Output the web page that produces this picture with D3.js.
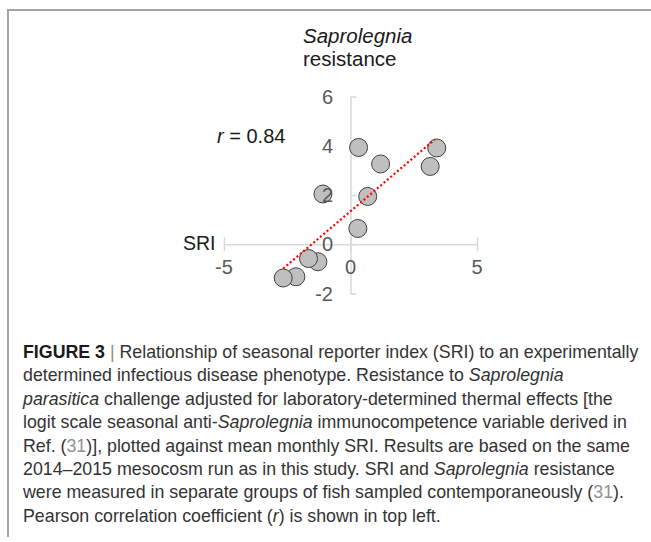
<!DOCTYPE html>
<html>
<head>
<meta charset="utf-8">
<script src="https://cdn.jsdelivr.net/npm/d3@7"></script>
<style>
  body { margin: 0; background: #fff; }
  svg { display: block; }
</style>
</head>
<body>
<div id="chart"></div>
<script>
var width = 651
var height = 542

// mean monthly SRI (x) vs Saprolegnia resistance (y)
var sriValues = [0.32, 1.19, 3.41, 3.15, -1.09, 0.68, 0.29, -1.29, -1.66, -2.16, -2.66]
var resistanceValues = [3.93, 3.26, 3.91, 3.16, 2.04, 1.94, 0.64, -0.71, -0.58, -1.32, -1.37]
var xTicks = [-5, 0, 5]
var yTicks = [-2, 0, 2, 4, 6]
var xDomain = [-5, 5]
var yDomain = [-2, 6]

var captionLines = [
  [{t: "FIGURE 3", b: 1}, {t: " | ", g: 1}, {t: "Relationship of seasonal reporter index (SRI) to an experimentally"}],
  [{t: "determined infectious disease phenotype. Resistance to "}, {t: "Saprolegnia", i: 1}],
  [{t: "parasitica", i: 1}, {t: " challenge adjusted for laboratory-determined thermal effects [the"}],
  [{t: "logit scale seasonal anti-"}, {t: "Saprolegnia", i: 1}, {t: " immunocompetence variable derived in"}],
  [{t: "Ref. ("}, {t: "31", c: 1}, {t: ")], plotted against mean monthly SRI. Results are based on the same"}],
  [{t: "2014\u20132015 mesocosm run as in this study. SRI and "}, {t: "Saprolegnia", i: 1}, {t: " resistance"}],
  [{t: "were measured in separate groups of fish sampled contemporaneously ("}, {t: "31", c: 1}, {t: ")."}],
  [{t: "Pearson correlation coefficient ("}, {t: "r", i: 1}, {t: ") is shown in top left."}]
]

var svg = d3.select('#chart')
  .append('svg')
  .attr('width', width)
  .attr('height', height)

// frame lines (top and left)
svg.append('line').attr('x1', 7).attr('x2', width).attr('y1', 10).attr('y2', 10)
  .attr('stroke', '#a6a6a6').attr('stroke-width', 2)
svg.append('line').attr('x1', 8).attr('x2', 8).attr('y1', 9).attr('y2', 537)
  .attr('stroke', '#a6a6a6').attr('stroke-width', 2)

var xScale = d3.scaleLinear().domain(xDomain).range([224, 477])
var yScale = d3.scaleLinear().domain(yDomain).range([293.5, 96.5])

var axisColor = '#d9d9d9'
var labelColor = '#595959'
var chartFont = '"Liberation Sans", Arial, sans-serif'

// x axis (crosses at y = 0)
var xAxis = d3.axisBottom(xScale).tickValues(xTicks).tickSizeInner(7).tickSizeOuter(0).tickFormat('')
var gx = svg.append('g')
  .attr('transform', 'translate(0,' + yScale(0) + ')')
  .call(xAxis)
gx.select('.domain').attr('stroke', axisColor).attr('stroke-width', 1.5)
gx.selectAll('.tick line').attr('stroke', axisColor).attr('stroke-width', 1.5).attr('y1', -7)

// y axis (crosses at x = 0)
var yAxis = d3.axisLeft(yScale).tickValues(yTicks).tickSizeInner(6).tickSizeOuter(0).tickFormat('')
var gy = svg.append('g')
  .attr('transform', 'translate(' + xScale(0) + ',0)')
  .call(yAxis)
gy.select('.domain').attr('stroke', axisColor).attr('stroke-width', 1.5)
gy.selectAll('.tick line').attr('stroke', axisColor).attr('stroke-width', 1.5).attr('x2', 6)

// points
var points = sriValues.map(function(x, i) { return {x: x, y: resistanceValues[i]} })
svg.append('g').selectAll('circle')
  .data(points)
  .enter()
  .append('circle')
  .attr('cx', function(d) { return xScale(d.x) })
  .attr('cy', function(d) { return yScale(d.y) })
  .attr('r', 9)
  .attr('fill', '#bfbfbf')
  .attr('stroke', '#404040')
  .attr('stroke-width', 1)

// least squares trend line
var mx = d3.mean(sriValues), my = d3.mean(resistanceValues)
var sxy = d3.sum(points, function(d) { return (d.x - mx) * (d.y - my) })
var sxx = d3.sum(points, function(d) { return (d.x - mx) * (d.x - mx) })
var slope = sxy / sxx
var intercept = my - slope * mx
var xExt = d3.extent(sriValues)
svg.append('line')
  .attr('x1', xScale(xExt[0])).attr('y1', yScale(intercept + slope * xExt[0]))
  .attr('x2', xScale(xExt[1] - 0.08)).attr('y2', yScale(intercept + slope * (xExt[1] - 0.08)))
  .attr('stroke', '#ff0000')
  .attr('stroke-width', 2.2)
  .attr('stroke-dasharray', '2,2.4')

// tick labels
svg.append('g').selectAll('text')
  .data(yTicks)
  .enter()
  .append('text')
  .attr('x', 333)
  .attr('y', function(d) { return yScale(d) })
  .attr('dy', '0.35em')
  .attr('text-anchor', 'end')
  .attr('font-family', chartFont)
  .attr('font-size', 20)
  .attr('fill', labelColor)
  .text(function(d) { return d })

svg.append('g').selectAll('text')
  .data(xTicks)
  .enter()
  .append('text')
  .attr('x', function(d) { return xScale(d) })
  .attr('y', 267)
  .attr('dy', '0.35em')
  .attr('text-anchor', 'middle')
  .attr('font-family', chartFont)
  .attr('font-size', 20)
  .attr('fill', labelColor)
  .text(function(d) { return d })

// titles
svg.append('text').attr('x', 303).attr('y', 43)
  .attr('font-family', chartFont).attr('font-size', 20.5).attr('font-style', 'italic')
  .attr('fill', '#1a1a1a').text('Saprolegnia')
svg.append('text').attr('x', 303).attr('y', 66)
  .attr('font-family', chartFont).attr('font-size', 20.5)
  .attr('fill', '#1a1a1a').text('resistance')

svg.append('text').attr('x', 183).attr('y', 250)
  .attr('font-family', chartFont).attr('font-size', 19.5)
  .attr('fill', '#1a1a1a').text('SRI')

var rText = svg.append('text').attr('x', 217).attr('y', 143)
  .attr('font-family', chartFont).attr('font-size', 20).attr('fill', '#1a1a1a')
rText.append('tspan').attr('font-style', 'italic').text('r')
rText.append('tspan').text(' = 0.84')

// caption
var caption = svg.append('g')
  .attr('font-family', chartFont)
  .attr('font-size', 17.8)
  .attr('fill', '#333333')
captionLines.forEach(function(line, i) {
  var t = caption.append('text')
    .attr('x', 23)
    .attr('y', 358 + i * 23.4)
  line.forEach(function(seg) {
    var s = t.append('tspan').text(seg.t)
    if (seg.b) s.attr('font-weight', 'bold').attr('fill', '#1a1a1a')
    if (seg.i) s.attr('font-style', 'italic')
    if (seg.g) s.attr('fill', '#8c8c8c')
    if (seg.c) s.attr('fill', '#8f8f99')
  })
})
</script>
</body>
</html>
